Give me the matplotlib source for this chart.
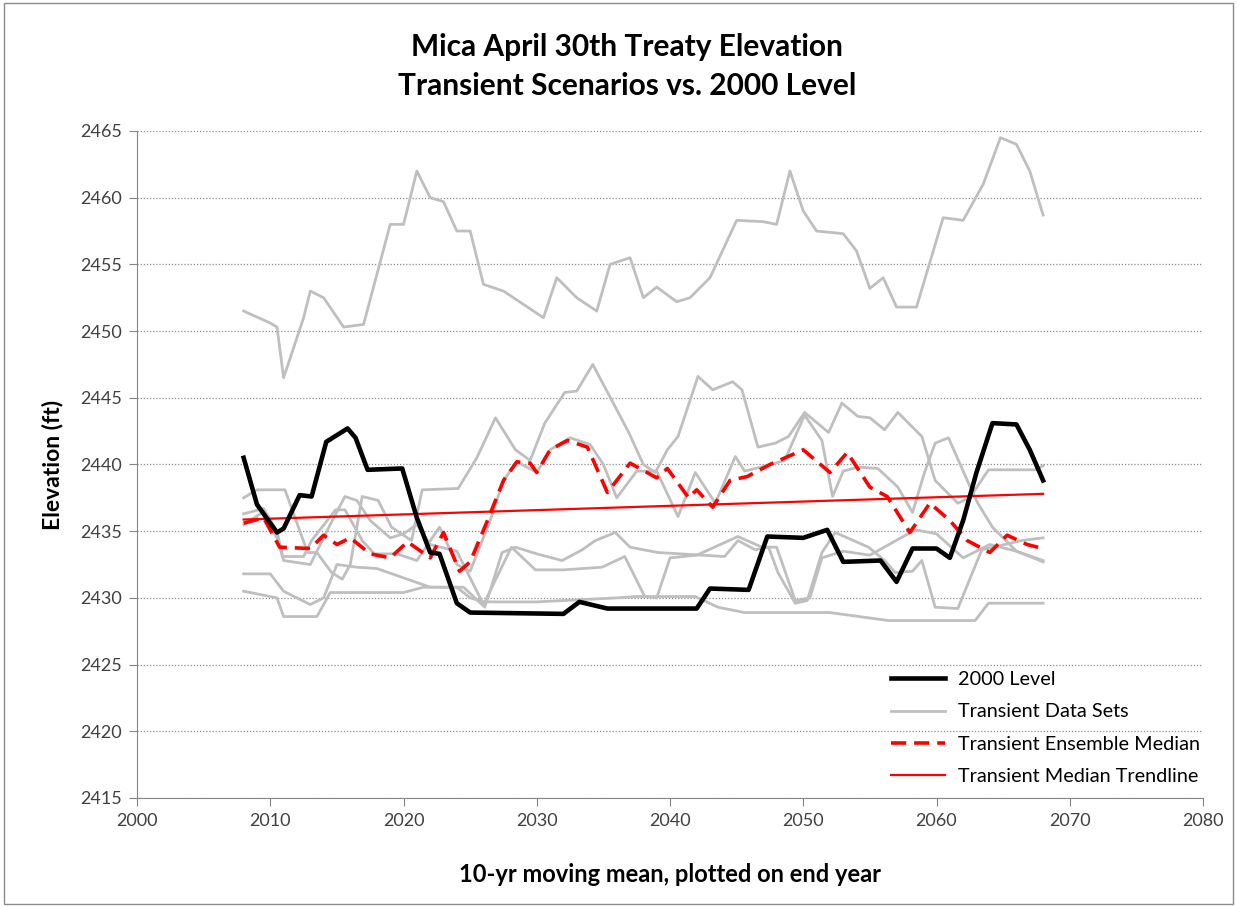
import numpy as np
import matplotlib
matplotlib.use('Agg')
from matplotlib import pyplot as plt
from matplotlib.patches import Rectangle

# ---- data ----
yr_2000 = [2008, 2009, 2010.5, 2011, 2012.2, 2013.1, 2014.2, 2015.8, 2016.4, 2017.3, 2019.9, 2021, 2022,
           2022.7, 2024, 2025, 2032, 2033.2, 2035.3, 2042, 2043, 2045.9, 2047.3, 2050, 2051.8, 2053,
           2055.8, 2057, 2058.2, 2060, 2061, 2062, 2063, 2064.2, 2066, 2067, 2068]
lvl_2000 = [2440.5, 2437.0, 2434.9, 2435.2, 2437.7, 2437.6, 2441.7, 2442.7, 2442.0, 2439.6, 2439.7, 2436.0, 2433.4,
            2433.3, 2429.6, 2428.9, 2428.8, 2429.7, 2429.2, 2429.2, 2430.7, 2430.6, 2434.6, 2434.5, 2435.1, 2432.7,
            2432.8, 2431.2, 2433.7, 2433.7, 2433.0, 2435.8, 2439.4, 2443.1, 2443.0, 2441.1, 2438.8]

yr_med = [2008, 2009.5, 2010.7, 2013, 2014, 2015, 2016, 2017.5, 2019, 2020.3, 2022, 2023, 2024.2, 2025,
          2026.3, 2027.5, 2028.5, 2029.5, 2030, 2031, 2032.3, 2033.8, 2035.3, 2037, 2039, 2039.8, 2041.4,
          2042, 2043.2, 2044.5, 2045.8, 2047.5, 2050, 2052, 2053.3, 2055, 2056.3, 2058, 2059.5, 2061,
          2062.3, 2064, 2065.3, 2066.8, 2068]
med = [2435.6, 2436.0, 2433.8, 2433.7, 2434.7, 2434.0, 2434.5, 2433.3, 2433.0, 2434.2, 2433.0, 2434.9, 2432.0, 2432.7,
       2435.8, 2438.8, 2440.2, 2440.1, 2439.4, 2441.1, 2441.8, 2441.3, 2437.9, 2440.1, 2439.0, 2439.7, 2437.5,
       2438.1, 2436.8, 2438.8, 2439.1, 2440.0, 2441.1, 2439.4, 2440.9, 2438.3, 2437.6, 2434.9, 2437.1, 2435.8,
       2434.3, 2433.4, 2434.7, 2434.0, 2433.7]

yr_g1 = [2008, 2010, 2010.5, 2011, 2012.5, 2013, 2014, 2015.5, 2017, 2019, 2020, 2021, 2022, 2023, 2024,
         2025, 2026, 2027.5, 2029, 2030.5, 2031.5, 2033, 2034.5, 2035.5, 2037, 2038, 2039, 2040.5, 2041.5,
         2043, 2045, 2047, 2048, 2049, 2050, 2051, 2053, 2054, 2055, 2056, 2057, 2058.5, 2060.5, 2062,
         2063.5, 2064.8, 2066, 2067, 2068]
g1 = [2451.5, 2450.6, 2450.3, 2446.5, 2451.0, 2453.0, 2452.5, 2450.3, 2450.5, 2458.0, 2458.0, 2462.0, 2460.0, 2459.7, 2457.5,
      2457.5, 2453.5, 2453.0, 2452.0, 2451.0, 2454.0, 2452.5, 2451.5, 2455.0, 2455.5, 2452.5, 2453.3, 2452.2, 2452.5,
      2454.0, 2458.3, 2458.2, 2458.0, 2462.0, 2459.0, 2457.5, 2457.3, 2456.0, 2453.2, 2454.0, 2451.8, 2451.8, 2458.5, 2458.3,
      2461.0, 2464.5, 2464.0, 2462.0, 2458.7]

yr_g2 = [2008, 2009, 2011.1, 2012.8, 2013.5, 2014.6, 2015.4, 2016, 2016.9, 2018.1, 2019.1, 2020.6, 2021.4, 2024.1,
         2025.5, 2026.9, 2028.4, 2029.5, 2030.6, 2032.1, 2033, 2034.2, 2035.9, 2036.9, 2038, 2038.9, 2039.8,
         2040.6, 2042.1, 2043.2, 2044.7, 2045.4, 2046.6, 2047.9, 2048.9, 2050.1, 2051.9, 2052.9, 2054.1, 2055,
         2056.1, 2057.1, 2058.9, 2059.9, 2061.6, 2062.5, 2063.9, 2067.4, 2068]
g2 = [2437.5, 2438.1, 2438.1, 2433.4, 2433.4, 2431.9, 2431.4, 2432.5, 2437.6, 2437.3, 2435.3, 2434.3, 2438.1, 2438.2,
      2440.5, 2443.5, 2441.1, 2440.3, 2443.1, 2445.4, 2445.5, 2447.5, 2444.3, 2442.4, 2440.0, 2439.4, 2441.1,
      2442.1, 2446.6, 2445.6, 2446.2, 2445.6, 2441.3, 2441.6, 2442.1, 2443.9, 2442.4, 2444.6, 2443.6, 2443.5,
      2442.6, 2443.9, 2442.1, 2438.8, 2437.1, 2437.5, 2439.6, 2439.6, 2439.9]

yr_g3 = [2008, 2010, 2011, 2013, 2014, 2015, 2016.5, 2018, 2020, 2022, 2024.5, 2026.1, 2027.4, 2028.4, 2030,
         2031.9, 2033.4, 2034.4, 2035.9, 2037, 2039.1, 2044.1, 2045.1, 2046.4, 2047.4, 2048.1, 2049.4, 2050.3,
         2051.4, 2052.4, 2054.9, 2056.1, 2056.9, 2058.2, 2058.9, 2059.9, 2061.6, 2062.7, 2063.4, 2066.4, 2068]
g3 = [2431.8, 2431.8, 2430.5, 2429.5, 2430.0, 2432.5, 2432.3, 2432.2, 2431.5, 2430.8, 2430.8, 2429.3, 2433.4, 2433.8, 2433.3,
      2432.8, 2433.6, 2434.3, 2434.9, 2433.8, 2433.4, 2433.1, 2434.3, 2433.6, 2433.8, 2431.9, 2429.6, 2429.8,
      2433.4, 2434.9, 2433.8, 2432.8, 2431.9, 2432.0, 2432.8, 2429.3, 2429.2, 2431.9, 2433.6, 2434.3, 2434.5]

yr_g4 = [2008, 2009.5, 2010.5, 2011, 2013.5, 2014.5, 2020, 2021.5, 2024, 2025, 2026, 2030, 2036, 2037.4, 2041.9,
         2043.6, 2045.6, 2052, 2056.4, 2062.9, 2063.9, 2068]
g4 = [2430.5, 2430.2, 2430.0, 2428.6, 2428.6, 2430.4, 2430.4, 2430.8, 2430.8, 2430.0, 2429.7, 2429.7, 2430.0, 2430.1, 2430.1,
      2429.3, 2428.9, 2428.9, 2428.3, 2428.3, 2429.6, 2429.6]

yr_g5 = [2008, 2009.4, 2010.6, 2010.9, 2012.5, 2013.1, 2014.9, 2015.6, 2016.9, 2017.8, 2019.5, 2021, 2022.7, 2024,
         2025, 2026.5, 2027.5, 2028.5, 2030, 2031, 2032.5, 2034, 2035, 2036, 2037.5, 2039, 2040.6, 2041.9,
         2043.4, 2044.9, 2045.6, 2047.2, 2048.6, 2050.1, 2051.4, 2052.2, 2053, 2054.1, 2055.6, 2057.1, 2058.2,
         2059.1, 2059.9, 2060.9, 2062.4, 2063.1, 2064.2, 2066, 2068]
g5 = [2435.5, 2436.4, 2434.3, 2433.1, 2433.1, 2434.3, 2436.6, 2436.6, 2434.3, 2433.3, 2433.3, 2432.8, 2435.3, 2432.5,
      2432.0, 2435.8, 2438.8, 2440.2, 2439.4, 2441.1, 2442.0, 2441.5, 2440.0, 2437.5, 2439.5, 2439.5, 2436.1, 2439.4,
      2437.1, 2440.6, 2439.5, 2439.9, 2440.3, 2443.7, 2441.8, 2437.6, 2439.5, 2439.8, 2439.7, 2438.3, 2436.4,
      2439.4, 2441.6, 2442.0, 2438.6, 2437.1, 2435.3, 2433.5, 2432.8]

yr_g6 = [2008, 2009.5, 2010.5, 2011, 2013, 2014.5, 2015.6, 2016.5, 2017.5, 2019, 2020, 2021, 2022, 2024, 2025,
         2026, 2028.1, 2029.9, 2032, 2034.9, 2036.6, 2038.1, 2039, 2040, 2042, 2045.1, 2046.9, 2048, 2049.4,
         2050.5, 2051.4, 2053, 2055, 2058.4, 2060, 2062, 2064, 2066, 2068]
g6 = [2436.3, 2436.7, 2435.0, 2432.8, 2432.5, 2435.5, 2437.6, 2437.3, 2435.8, 2434.5, 2434.8, 2435.5, 2434.0, 2433.5, 2431.5,
      2429.5, 2433.8, 2432.1, 2432.1, 2432.3, 2433.1, 2430.1, 2430.0, 2433.0, 2433.2, 2434.6, 2433.8, 2433.8, 2429.8,
      2430.0, 2433.0, 2433.5, 2433.2, 2435.1, 2434.8, 2433.0, 2434.0, 2433.5, 2432.7]

gray_sets = [(yr_g1, g1), (yr_g2, g2), (yr_g3, g3), (yr_g4, g4), (yr_g5, g5), (yr_g6, g6)]

y_ticks = np.arange(2415, 2466, 5)
x_ticks = np.arange(2000, 2081, 10)

# ---- figure ----
plt.rcParams['font.family'] = ['Lato', 'DejaVu Sans']

fig = plt.figure(figsize=(12.37, 9.07), dpi=100)
fig.patches.append(Rectangle((0.003, 0.003), 0.994, 0.994, transform=fig.transFigure,
                             fill=False, edgecolor='#8c8c8c', linewidth=1))
ax = fig.add_axes([0.1108, 0.1202, 0.8617, 0.7354])

for i, (xs, ys) in enumerate(gray_sets):
    ax.plot(xs, ys, color='#bfbfbf', lw=2.0, solid_joinstyle='round',
            label='Transient Data Sets' if i == 0 else None, zorder=2)

ax.plot(yr_med, med, color='#ff0000', lw=2.6, ls=(0, (4.2, 2.2)), label='Transient Ensemble Median', zorder=3)

coef = np.polyfit(yr_med, med, 1)
trend_x = np.array([yr_med[0], yr_med[-1]])
ax.plot(trend_x, np.polyval(coef, trend_x), color='#ff0000', lw=1.6, label='Transient Median Trendline', zorder=4)

ax.plot(yr_2000, lvl_2000, color='black', lw=3.3, solid_joinstyle='round', label='2000 Level', zorder=5)

ax.set_xlim(2000, 2080)
ax.set_ylim(2415, 2465)
ax.set_xticks(x_ticks)
ax.set_yticks(y_ticks)
ax.tick_params(labelsize=13, colors='#404040', length=6, pad=5, color='#868686')
ax.yaxis.grid(True, ls=(0, (1, 1.5)), color='#8c8c8c', lw=0.9)
ax.set_axisbelow(True)
for s in ['top', 'right']:
    ax.spines[s].set_visible(False)
for s in ['left', 'bottom']:
    ax.spines[s].set_color('#868686')

ax.set_ylabel('Elevation (ft)', fontsize=16.5, fontweight='bold', labelpad=12)
ax.set_xlabel('10-yr moving mean, plotted on end year', fontsize=17, fontweight='bold', labelpad=24)
fig.text(627 / 1237, 1 - 47 / 907, 'Mica April 30th Treaty Elevation',
         ha='center', va='center', fontsize=21.5, fontweight='bold')
fig.text(627 / 1237, 1 - 86 / 907, 'Transient Scenarios vs. 2000 Level',
         ha='center', va='center', fontsize=21.5, fontweight='bold')

h, l = ax.get_legend_handles_labels()
order = [l.index(n) for n in ['2000 Level', 'Transient Data Sets', 'Transient Ensemble Median',
                               'Transient Median Trendline']]
ax.legend([h[k] for k in order], [l[k] for k in order], loc='lower right', frameon=False,
          fontsize=14.3, handlelength=2.7, handletextpad=0.65, labelspacing=0.78,
          bbox_to_anchor=(1.014, -0.008))

plt.savefig('out.png', dpi=100)
